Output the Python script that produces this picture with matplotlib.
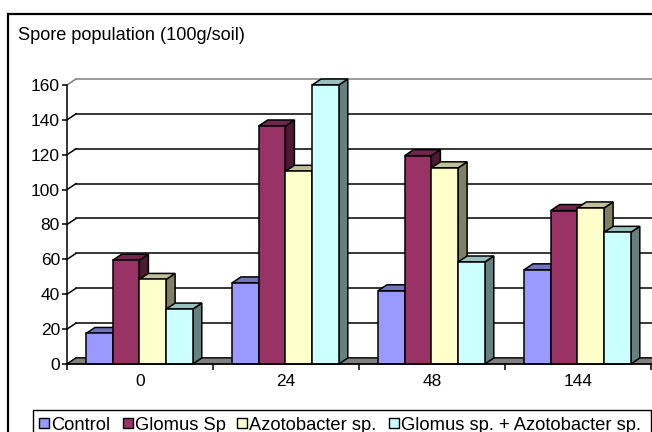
import matplotlib.pyplot as plt
from matplotlib.patches import Polygon, Rectangle

plt.rcParams['font.family'] = ['Liberation Sans', 'DejaVu Sans']

hours = ["0", "24", "48", "144"]
series = ["Control", "Glomus Sp", "Azotobacter sp.", "Glomus sp. + Azotobacter sp."]
control = [17.5, 46.5, 42, 54]
glomus = [59.5, 136.5, 119.5, 88]
azoto = [48.5, 110.5, 112.5, 89.5]
combo = [31.5, 160, 58.5, 75.5]
values = [control, glomus, azoto, combo]
yticks = [0, 20, 40, 60, 80, 100, 120, 140, 160]

front = ["#9999FF", "#993366", "#FFFFCC", "#CCFFFF"]
top = ["#7373BF", "#73264D", "#BFBF99", "#99BFBF"]
side = ["#4D4D80", "#4D1A33", "#808066", "#668080"]

W, H = 652, 432
fig = plt.figure(figsize=(W / 100, H / 100), dpi=100)
ax = fig.add_axes([67 / W, (H - 364) / H, 584 / W, 279 / H])
ax.set_xlim(0, 4)
ax.set_ylim(0, 160)
ax.patch.set_visible(False)

# pixel -> data scale, used for the 3d depth offset
sx = 4 / 584
sy = 160 / 279
DX = 9 * sx
DY = 6 * sy

# back wall gridlines and left wall diagonals
for v in yticks:
    c = "#808080" if v == yticks[-1] else "black"
    ax.plot([DX, 4 + DX], [v + DY, v + DY], color=c, lw=1.1, clip_on=False, zorder=1)
    ax.plot([0, DX], [v, v + DY], color=c, lw=1.1, clip_on=False, zorder=1)

# floor
ax.add_patch(Polygon([(0, 0), (4, 0), (4 + DX, DY), (DX, DY)], closed=True,
                     fc="#808080", ec="black", lw=0.8, clip_on=False, zorder=2))

bw = 26.7 / 146
off = 19 / 146
z = 3
for i in range(len(hours)):
    for j, vals in enumerate(values):
        v = vals[i]
        x0 = i + off + j * bw
        ax.add_patch(Polygon([(x0 + bw, 0), (x0 + bw + DX, DY), (x0 + bw + DX, v + DY), (x0 + bw, v)],
                             closed=True, fc=side[j], ec="black", lw=1.1, clip_on=False, zorder=z))
        ax.add_patch(Polygon([(x0, v), (x0 + bw, v), (x0 + bw + DX, v + DY), (x0 + DX, v + DY)],
                             closed=True, fc=top[j], ec="black", lw=1.1, clip_on=False, zorder=z))
        ax.add_patch(Rectangle((x0, 0), bw, v, fc=front[j], ec="black", lw=1.1,
                               clip_on=False, zorder=z))
        z += 1

ax.spines[['top', 'right']].set_visible(False)
ax.spines['left'].set_linewidth(1.1)
ax.spines['bottom'].set_linewidth(1.1)
ax.spines['bottom'].set_zorder(50)

ax.set_yticks(yticks)
ax.set_yticklabels([str(v) for v in yticks], fontsize=12.5)
ax.tick_params(axis='y', length=3.6, width=1.1, pad=1.5)

ax.set_xticks([0, 1, 2, 3, 4])
ax.set_xticklabels([])
ax.tick_params(axis='x', which='major', length=4.3, width=1.1)
ax.set_xticks([0.5, 1.5, 2.5, 3.5], minor=True)
ax.set_xticklabels(hours, minor=True, fontsize=12.5)
ax.tick_params(axis='x', which='minor', length=0, pad=7.5)

fig.text(18 / W, 1 - 36 / H, "Spore population (100g/soil)", fontsize=13.1, va='center')

# outer chart frame
fig.patches.append(Rectangle((8 / W, -0.05), 1.0, (H - 14) / H + 0.05, transform=fig.transFigure,
                             fill=False, ec="black", lw=1.6))

# legend box and entries
fig.patches.append(Rectangle((33 / W, -0.05), (651 - 33) / W, (H - 410) / H + 0.05,
                             transform=fig.transFigure, fill=False, ec="black", lw=1.0))
leg_x = [39, 123, 237, 389]
for name, col, lx in zip(series, front, leg_x):
    fig.patches.append(Rectangle((lx / W, 1 - 428 / H), 10 / W, 10 / H, transform=fig.transFigure,
                                 fc=col, ec="black", lw=1.0))
    fig.text((lx + 12) / W, 1 - 429.5 / H, name, fontsize=13.2, va='baseline')

fig.savefig("out.png", dpi=100)
